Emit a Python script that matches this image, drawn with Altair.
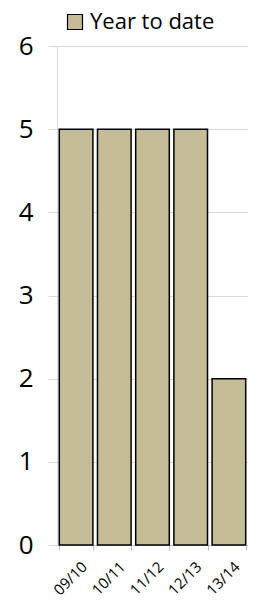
import altair as alt
import pandas as pd

seasons = ["09/10", "10/11", "11/12", "12/13", "13/14"]
values = [5, 5, 5, 5, 2]
series = ["Year to date"] * 5

df = pd.DataFrame({"season": seasons, "value": values, "series": series})

FONT = "Open Sans"

chart = alt.Chart(df).mark_bar(
    stroke="black", strokeWidth=1.5, color="#C4BD97"
).encode(
    x=alt.X("season:N", sort=seasons, title=None,
            scale=alt.Scale(paddingInner=0.12, paddingOuter=0.06),
            axis=alt.Axis(labelAngle=-45, labelFontSize=15, labelFont=FONT,
                          labelColor="black", domainColor="#bfbfbf",
                          tickColor="#bfbfbf", tickBand="extent", tickSize=5,
                          labelAlign="right", labelBaseline="top",
                          labelPadding=9, labelOffset=3)),
    y=alt.Y("value:Q", title=None,
            scale=alt.Scale(domain=[0, 6]),
            axis=alt.Axis(values=[0, 1, 2, 3, 4, 5, 6], labelFontSize=26,
                          labelFont=FONT, labelColor="black",
                          gridColor="#d9d9d9", domainColor="#d9d9d9",
                          tickColor="#d9d9d9", tickSize=9, labelPadding=15)),
    fill=alt.Fill("series:N", scale=alt.Scale(range=["#C4BD97"]),
                  legend=alt.Legend(title=None, orient="none", legendX=7,
                                    legendY=-35, labelFontSize=22, labelFont=FONT,
                                    labelColor="black", symbolType="square",
                                    symbolSize=225, symbolStrokeColor="black",
                                    symbolStrokeWidth=1.2, labelOffset=4,
                                    padding=0)),
).properties(
    width=191, height=499,
    autosize=alt.AutoSizeParams(type="none"),
    padding={"left": 49, "top": 38, "right": 0, "bottom": 54},
).configure_view(stroke=None)

chart.save("out.html", embed_options={"renderer": "svg", "actions": False})
